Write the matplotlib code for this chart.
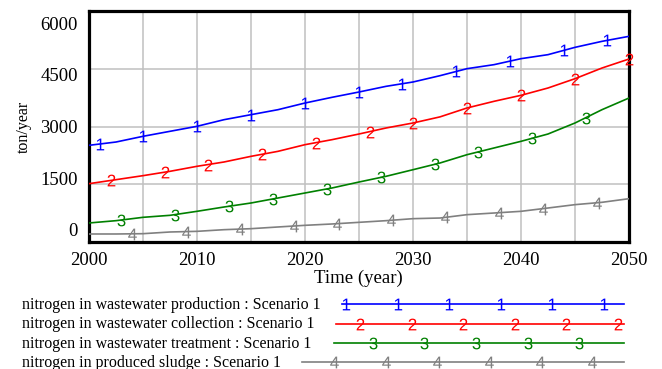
import matplotlib
matplotlib.use("Agg")
import matplotlib.pyplot as plt
import numpy as np
from matplotlib.transforms import ScaledTranslation

# ── Data ──────────────────────────────────────────────────────────────────
years = [2000, 2002.5, 2005, 2007.5, 2010, 2012.5, 2015, 2017.5, 2020, 2022.5, 2025,
         2027.5, 2030, 2032.5, 2035, 2037.5, 2040, 2042.5, 2045, 2047.5, 2050]
production = [2511, 2597, 2745, 2875, 3005, 3177, 3307, 3437, 3610, 3758, 3896,
              4043, 4156, 4320, 4502, 4606, 4762, 4866, 5056, 5212, 5342]
collection = [1515, 1619, 1723, 1836, 1966, 2078, 2225, 2355, 2528, 2658, 2805,
              2961, 3091, 3250, 3481, 3654, 3810, 4000, 4242, 4519, 4753]
treatment = [494, 554, 641, 693, 797, 909, 1013, 1143, 1273, 1403, 1558,
             1706, 1878, 2052, 2268, 2442, 2615, 2805, 3091, 3437, 3740]
sludge = [208, 208, 216, 260, 277, 320, 346, 390, 433, 468, 511,
          554, 606, 623, 710, 753, 797, 883, 970, 1031, 1125]

series_names = [
    "nitrogen in wastewater production : Scenario 1",
    "nitrogen in wastewater collection : Scenario 1",
    "nitrogen in wastewater treatment : Scenario 1",
    "nitrogen in produced sludge : Scenario 1",
]
series_values = [production, collection, treatment, sludge]
series_tags = ["1", "2", "3", "4"]
# years at which the series number is written on the curve
tag_years = [
    [2001, 2005, 2010, 2015, 2020, 2025, 2029, 2034, 2039, 2044, 2048],
    [2002, 2007, 2011, 2016, 2021, 2026, 2030, 2035, 2040, 2045, 2050],
    [2003, 2008, 2013, 2017, 2022, 2027, 2032, 2036, 2041, 2046],
    [2004, 2009, 2014, 2019, 2023, 2028, 2033, 2038, 2042, 2047],
]
colors = ["#0000ff", "#ff0000", "#008000", "#808080"]

y_ticks = [0, 1500, 3000, 4500, 6000]
x_ticks = list(range(2000, 2051, 5))

serif = "Liberation Serif"
plt.rcParams["mathtext.fontset"] = "custom"
plt.rcParams["mathtext.rm"] = "Liberation Sans"
plt.rcParams["mathtext.it"] = "Liberation Sans"

fig = plt.figure(figsize=(6.62, 3.69), dpi=100)
ax = fig.add_axes([89 / 662, 1 - 242 / 369, 540 / 662, 231 / 369])

for vals, tag, tys, col in zip(series_values, series_tags, tag_years, colors):
    ax.plot(years, vals, color=col, linewidth=1.2, zorder=3)
    ax.plot(tys, np.interp(tys, years, vals), linestyle="none",
            marker=f"$\\mathrm{{{tag}}}$", markersize=8.5, mew=0,
            color=col, zorder=4, clip_on=False)

ax.set_xlim(2000, 2050)
ax.set_ylim(0, 6000)
ax.set_xticks(x_ticks)
ax.set_xticklabels([str(x) if x % 10 == 0 else "" for x in x_ticks],
                   family=serif, fontsize=13.5)
ax.set_yticks(y_ticks)
ax.set_yticklabels([str(v) for v in y_ticks], family=serif, fontsize=13.5)
ax.tick_params(length=0)
ax.tick_params(axis="x", pad=7)
ax.tick_params(axis="y", pad=8)
ax.grid(True, color="#c0c0c0", linewidth=1.1, zorder=1)
for sp in ax.spines.values():
    sp.set_linewidth(2.3)
    sp.set_color("black")

# Vensim spreads the y labels a bit inside the frame
for v, lab in zip(y_ticks, ax.yaxis.get_majorticklabels()):
    dy = (12 - 24 * v / 6000) / 100
    lab.set_transform(lab.get_transform() + ScaledTranslation(0, dy, fig.dpi_scale_trans))

ax.set_xlabel("Time (year)", family=serif, fontsize=13.5)
ax.xaxis.set_label_coords((358 - 89) / 540, -(270 - 242) / 231)
ax.set_ylabel("ton/year", family=serif, fontsize=11.5)
ax.yaxis.set_label_coords(-(89 - 32) / 540, 0.5)

# ── Legend below the chart, in pixel coordinates ──────────────────────────
lg = fig.add_axes([0, 0, 1, 1], zorder=-1)
lg.set_xlim(0, 662)
lg.set_ylim(369, 0)
lg.axis("off")
rows_y = [304, 323.5, 342.5, 362]
line_start = [342, 335.5, 334, 301.5]
tag_x0 = [346, 360, 372.7, 334]
tag_n = [6, 6, 5, 6]
for name, tag, col, ry, x0, t0, n in zip(series_names, series_tags, colors,
                                         rows_y, line_start, tag_x0, tag_n):
    lg.text(22.5, ry + 1, name, family=serif, fontsize=11.5, ha="left",
            va="center", color="black")
    lg.plot([x0, 624], [ry, ry], color=col, linewidth=1.2)
    lg.plot(t0 + 51.6 * np.arange(n), [ry] * n, linestyle="none",
            marker=f"$\\mathrm{{{tag}}}$", markersize=8.5, mew=0, color=col)

fig.savefig("out.png", dpi=100)
